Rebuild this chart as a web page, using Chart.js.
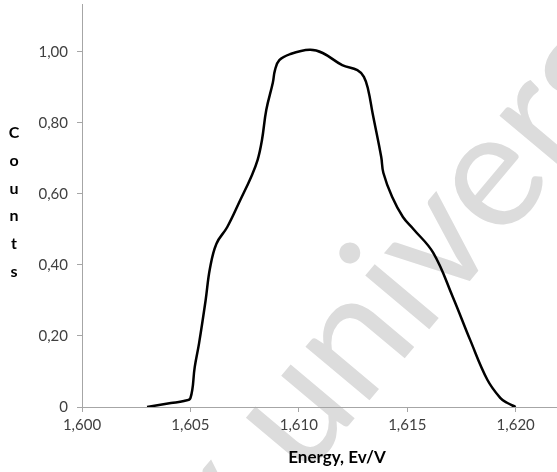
<!DOCTYPE html>
<html>
<head>
<meta charset="utf-8">
<script src="https://cdn.jsdelivr.net/npm/chart.js@4"></script>
<style>
  html, body { margin: 0; padding: 0; background: #fff; overflow: hidden; }
  #wrap { width: 592px; height: 472px; }
</style>
</head>
<body>
<div id="wrap"><canvas id="line-chart" width="592" height="472"></canvas></div>
<script>
// energy (x) and normalised counts (y)
var energy = [1.6030, 1.6041, 1.6047, 1.6050, 1.6052, 1.6054, 1.6057, 1.6059, 1.6062, 1.6067,
              1.6073, 1.6078, 1.6081, 1.6083, 1.6085, 1.6088, 1.6089, 1.6091, 1.6096, 1.6105,
              1.6111, 1.6120, 1.6127, 1.6130, 1.6132, 1.6134, 1.6138, 1.6139, 1.6143, 1.6148,
              1.6153, 1.6162, 1.6171, 1.6179, 1.6187, 1.6193, 1.6196, 1.6200];
var counts = [0, 0.011, 0.017, 0.025, 0.113, 0.18, 0.30, 0.39, 0.46, 0.507,
              0.583, 0.648, 0.696, 0.752, 0.837, 0.913, 0.949, 0.977, 0.994, 1.006,
              0.997, 0.963, 0.949, 0.930, 0.893, 0.828, 0.704, 0.659, 0.592, 0.535,
              0.50, 0.434, 0.31, 0.189, 0.076, 0.025, 0.012, 0];
var xTicks = [1.600, 1.605, 1.610, 1.615, 1.620];
var yTicks = [0, 0.2, 0.4, 0.6, 0.8, 1.0];
var yTitle = "Counts";
var xTitle = "Energy, Ev/V";
var watermark = "y univers";

var points = energy.map(function(e, i) { return {x: e, y: counts[i]}; });

var extras = {
    id: 'extras',
    beforeDraw: function(chart) {
        var ctx = chart.ctx;
        var ang = -50 * Math.PI / 180;
        var size = 165;
        var c = Math.cos(ang), s = Math.sin(ang);
        ctx.save();
        ctx.font = size + 'px Lato';
        // pin the dot of the "i" where it sits in the scan
        var dx = ctx.measureText('y un').width + 0.115 * size;
        var dy = -0.70 * size;
        ctx.translate(345 - (dx * c - dy * s), 250 - (dx * s + dy * c));
        ctx.rotate(ang);
        ctx.fillStyle = '#dcdcdc';
        ctx.textBaseline = 'alphabetic';
        ctx.fillText(watermark, 0, 0);
        ctx.restore();
    },
    afterDraw: function(chart) {
        var ctx = chart.ctx;
        ctx.save();
        ctx.font = 'bold 16px Lato';
        ctx.fillStyle = '#000';
        ctx.textAlign = 'center';
        ctx.textBaseline = 'middle';
        for (var i = 0; i < yTitle.length; i++) {
            ctx.fillText(yTitle[i], 14, 133 + i * 27.7);
        }
        ctx.restore();
    }
};

function fmt(v, d) { return v.toFixed(d).replace('.', ','); }

new Chart(document.getElementById("line-chart"), {
    type: 'scatter',
    data: {
        datasets: [{
            data: points,
            showLine: true,
            borderColor: "#000",
            borderWidth: 2.5,
            pointRadius: 0,
            tension: 0.4,
            fill: false
        }]
    },
    options: {
        responsive: false,
        animation: false,
        layout: { padding: { top: 4, left: 0, right: 0, bottom: 0 } },
        plugins: { legend: { display: false }, tooltip: { enabled: false } },
        scales: {
            x: {
                type: 'linear',
                min: 1.600,
                max: 1.62352,
                afterBuildTicks: function(s) { s.ticks = xTicks.map(function(v) { return {value: v}; }); },
                afterFit: function(s) { s.height = 65; s.paddingLeft = 0; s.paddingRight = 0; },
                grid: { drawOnChartArea: false, drawTicks: true, tickLength: 5, color: '#a6a6a6' },
                border: { color: '#a6a6a6', width: 1 },
                ticks: {
                    padding: 4,
                    color: '#404040',
                    font: { family: 'Lato', size: 15 },
                    callback: function(v) { return fmt(v, 3); }
                },
                title: {
                    display: true,
                    text: xTitle,
                    color: '#000',
                    font: { family: 'Lato', size: 17, weight: 'bold' },
                    padding: { top: 0, bottom: 4 }
                }
            },
            y: {
                type: 'linear',
                min: 0,
                max: 1.135,
                afterBuildTicks: function(s) { s.ticks = yTicks.map(function(v) { return {value: v}; }); },
                afterFit: function(s) { s.width = 82; s.paddingTop = 0; s.paddingBottom = 0; },
                grid: { drawOnChartArea: false, drawTicks: true, tickLength: 5, color: '#a6a6a6' },
                border: { color: '#a6a6a6', width: 1 },
                ticks: {
                    padding: 9,
                    color: '#404040',
                    font: { family: 'Lato', size: 15 },
                    callback: function(v) { return v === 0 ? '0' : fmt(v, 2); }
                }
            }
        }
    },
    plugins: [extras]
});
</script>
</body>
</html>
